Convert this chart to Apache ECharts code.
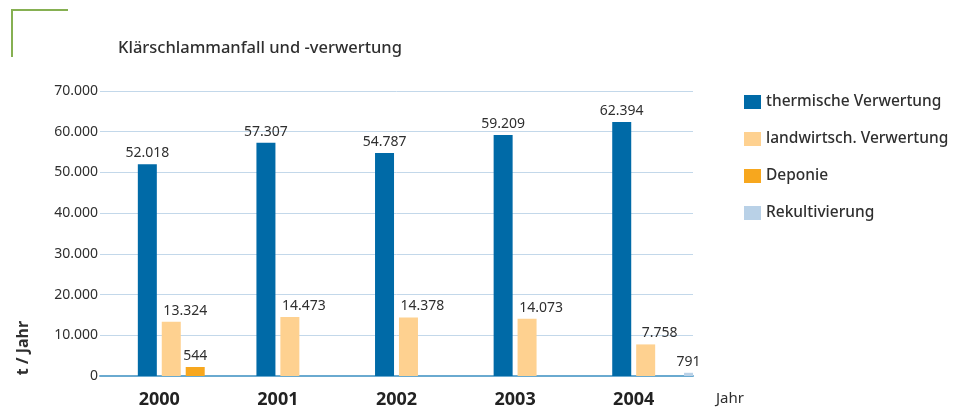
<!DOCTYPE html>
<html>
<head>
<meta charset="utf-8">
<script src="https://cdn.jsdelivr.net/npm/echarts@6/dist/echarts.min.js"></script>
<style>
  html, body { margin: 0; padding: 0; background: #fff; }
  #main { width: 962px; height: 412px; }
</style>
</head>
<body>
<div id="main"></div>
<script>
var jahre = ["2000", "2001", "2002", "2003", "2004"];
var thermisch = [52018, 57307, 54787, 59209, 62394];
var landwirtsch = [13324, 14473, 14378, 14073, 7758];
var deponie = [544, null, null, null, null];
var rekultivierung = [null, null, null, null, 791];
var yTicks = [0, 10000, 20000, 30000, 40000, 50000, 60000, 70000];

function fmt(v) {
  //Tausenderpunkt
  return String(v).replace(/\B(?=(\d{3})+(?!\d))/g, ".");
}

var fontName = "Noto Sans";
var textCol = "#2f2f2f";

function barSerie(name, data, color, minH, labelDx) {
  return {
    name: name,
    type: "bar",
    barWidth: 19,
    barGap: "26%",
    barMinHeight: minH || 0,
    itemStyle: { color: color },
    label: {
      show: true,
      position: "top",
      distance: 4,
      offset: [labelDx || 0, 0],
      color: textCol,
      fontFamily: fontName,
      fontSize: 14,
      formatter: function (p) { return fmt(p.value); }
    },
    data: data
  };
}

var myChart = echarts.init(document.getElementById("main"));
var option = {
  backgroundColor: "#ffffff",
  animation: false,
  title: {
    text: "Klärschlammanfall und -verwertung",
    left: 113,
    top: 35,
    textStyle: {
      fontFamily: fontName,
      fontSize: 16.5,
      fontWeight: 500,
      color: textCol
    }
  },
  legend: {
    orient: "vertical",
    left: 739,
    top: 89,
    itemWidth: 17,
    itemHeight: 14,
    itemGap: 21,
    icon: "rect",
    data: ["thermische Verwertung", "landwirtsch. Verwertung", "Deponie", "Rekultivierung"],
    textStyle: {
      fontFamily: fontName,
      fontSize: 15.5,
      fontWeight: 500,
      color: textCol
    }
  },
  grid: {
    left: 100,
    right: 269,
    top: 91,
    bottom: 36
  },
  xAxis: {
    type: "category",
    data: jahre,
    name: "Jahr",
    nameLocation: "end",
    nameGap: 23,
    nameTextStyle: {
      fontFamily: fontName,
      fontSize: 15,
      color: textCol,
      verticalAlign: "top",
      padding: [15, 0, 0, 0]
    },
    axisLine: { lineStyle: { color: "#6aaad0", width: 2 } },
    axisTick: { show: false },
    axisLabel: {
      margin: 15,
      fontFamily: fontName,
      fontSize: 18,
      fontWeight: "bold",
      color: "#222222"
    }
  },
  yAxis: {
    type: "value",
    min: 0,
    max: 70000,
    interval: 10000,
    axisLine: { show: false },
    axisTick: { show: false },
    splitLine: { lineStyle: { color: "#c3d8ea", width: 1 } },
    axisLabel: {
      margin: 2,
      fontFamily: fontName,
      fontSize: 14,
      color: textCol,
      formatter: function (v) { return yTicks.indexOf(v) >= 0 ? fmt(v) : ""; }
    }
  },
  graphic: [
    {
      type: "polyline",
      shape: { points: [[12, 57], [12, 10], [68, 10]] },
      style: { stroke: "#86b052", lineWidth: 2, fill: null }
    },
    {
      type: "text",
      x: 23,
      y: 348,
      rotation: Math.PI / 2,
      style: {
        text: "t / Jahr",
        fontFamily: fontName,
        fontSize: 16,
        fontWeight: "bold",
        fill: textCol,
        align: "center",
        verticalAlign: "middle"
      }
    }
  ],
  series: [
    { name: "_a", type: "bar", barWidth: 19, barGap: "26%", data: [] },
    { name: "_b", type: "bar", barWidth: 19, barGap: "26%", data: [] },
    barSerie("thermische Verwertung", thermisch, "#006aa7"),
    barSerie("landwirtsch. Verwertung", landwirtsch, "#fed190", 0, 14),
    barSerie("Deponie", deponie, "#f7a71e", 9),
    barSerie("Rekultivierung", rekultivierung, "#b9d1e7", 3)
  ]
};
myChart.setOption(option);
</script>
</body>
</html>
